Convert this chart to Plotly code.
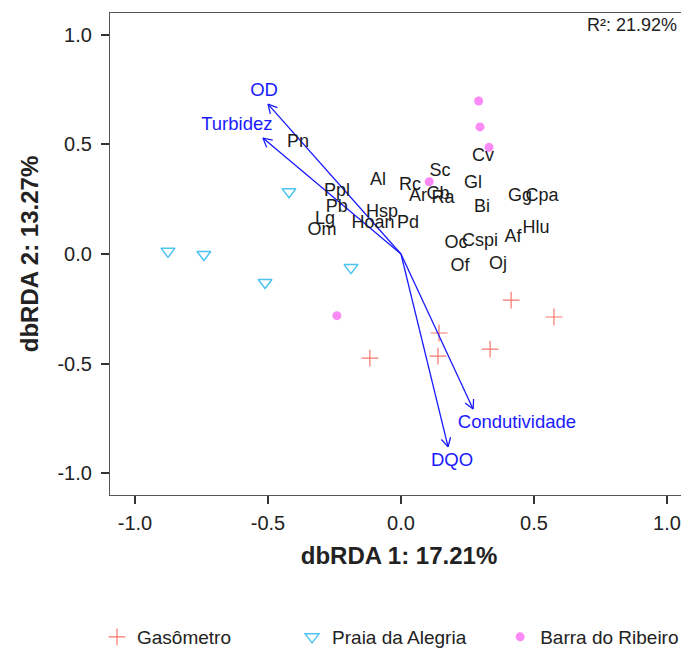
import math
import plotly.graph_objects as go

# ---------------- data ----------------
gas_x = [0.414, 0.575, 0.143, 0.139, 0.335, -0.117]
gas_y = [-0.210, -0.287, -0.360, -0.465, -0.433, -0.474]

praia_x = [-0.876, -0.741, -0.511, -0.188, -0.421]
praia_y = [0.012, -0.002, -0.130, -0.062, 0.284]

barra_x = [0.292, 0.297, 0.331, 0.106, -0.241]
barra_y = [0.697, 0.579, 0.486, 0.329, -0.281]

species = ["Pn", "Al", "Sc", "Cv", "Rc", "Ar", "Cb", "Ra", "Gl", "Bi", "Gg", "Cpa",
           "Hlu", "Af", "Oc", "Cspi", "Of", "Oj", "Ppl", "Pb", "Hsp", "Lg", "Om",
           "Hoan", "Pd"]
species_x = [-0.387, -0.086, 0.147, 0.308, 0.034, 0.064, 0.139, 0.158, 0.271, 0.305,
             0.447, 0.530, 0.508, 0.421, 0.207, 0.297, 0.222, 0.365, -0.241, -0.241,
             -0.071, -0.286, -0.297, -0.105, 0.026]
species_y = [0.506, 0.333, 0.374, 0.446, 0.314, 0.260, 0.269, 0.251, 0.323, 0.214,
             0.260, 0.260, 0.114, 0.073, 0.050, 0.059, -0.059, -0.050, 0.287, 0.214,
             0.191, 0.159, 0.109, 0.141, 0.141]

env_names = ["OD", "Turbidez", "Condutividade", "DQO"]
env_x = [-0.500, -0.519, 0.271, 0.177]
env_y = [0.683, 0.528, -0.706, -0.879]
env_label_x = [-0.515, -0.617, 0.436, 0.192]
env_label_y = [0.743, 0.588, -0.770, -0.943]

x_ticks = [-1.0, -0.5, 0.0, 0.5, 1.0]
y_ticks = [-1.0, -0.5, 0.0, 0.5, 1.0]
x_title = "dbRDA 1: 17.21%"
y_title = "dbRDA 2: 13.27%"
r2_text = "R²: 21.92%"

# ---------------- styles / layout ----------------
FONT = "Liberation Sans, Arial, sans-serif"
C_GAS = "#F8766D"
C_PRAIA = "#4CC4F2"
C_BARRA = "#FB8AF6"
C_ARROW = "#1A1AFF"
C_TEXT = "#1A1A1A"

X_RANGE = [-1.094, 1.079]
Y_RANGE = [-1.098, 1.098]
# page body has an 8px default margin; compensate so the plot lands where the reference has it
FIG_W, FIG_H = 681, 640
M_L, M_R, M_T, M_B = 102, 1, 5, 153
PLOT_W = FIG_W - M_L - M_R
PLOT_H = FIG_H - M_T - M_B
SX = PLOT_W / (X_RANGE[1] - X_RANGE[0])
SY = PLOT_H / (Y_RANGE[1] - Y_RANGE[0])

fig = go.Figure()

fig.add_trace(go.Scatter(
    x=gas_x, y=gas_y, mode="markers", name="Gasômetro",
    marker=dict(symbol="cross-thin", size=12, line=dict(color=C_GAS, width=1.2), color=C_GAS),
    legend="legend"))
fig.add_trace(go.Scatter(
    x=praia_x, y=praia_y, mode="markers", name="Praia da Alegria",
    marker=dict(symbol="triangle-down-open", size=12, line=dict(color=C_PRAIA, width=1.5), color=C_PRAIA),
    legend="legend2"))
fig.add_trace(go.Scatter(
    x=barra_x, y=barra_y, mode="markers", name="Barra do Ribeiro",
    marker=dict(symbol="circle", size=9, color=C_BARRA),
    legend="legend3"))

# arrows: shaft + open V head (head geometry computed in pixel space)
ax_list, ay_list = [], []
HEAD_LEN, HEAD_ANG = 10.0, math.radians(28)
for ex, ey in zip(env_x, env_y):
    ax_list += [0.0, ex, None]
    ay_list += [0.0, ey, None]
    px, py = ex * SX, ey * SY
    n = math.hypot(px, py)
    ux, uy = px / n, py / n
    for s in (1, -1):
        c, si = math.cos(s * HEAD_ANG), math.sin(s * HEAD_ANG)
        rx, ry = ux * c - uy * si, ux * si + uy * c
        hx, hy = px - HEAD_LEN * rx, py - HEAD_LEN * ry
        ax_list += [hx / SX, ex, None]
        ay_list += [hy / SY, ey, None]
fig.add_trace(go.Scatter(x=ax_list, y=ay_list, mode="lines", showlegend=False,
                         line=dict(color=C_ARROW, width=1.3), hoverinfo="skip"))

fig.add_trace(go.Scatter(
    x=species_x, y=species_y, mode="text", text=species, showlegend=False,
    textfont=dict(family=FONT, size=18, color=C_TEXT), hoverinfo="text"))

fig.add_trace(go.Scatter(
    x=env_label_x, y=env_label_y, mode="text", text=env_names, showlegend=False,
    textfont=dict(family=FONT, size=18.5, color=C_ARROW), hoverinfo="text"))

fig.add_annotation(x=1.0, y=1.0, xref="paper", yref="paper", xanchor="right", yanchor="top",
                   xshift=-9, yshift=0, text=r2_text, showarrow=False,
                   font=dict(family=FONT, size=18, color="#222222"))

axis_common = dict(showgrid=False, zeroline=False, showline=True, linecolor="#555555",
                   linewidth=1.2, mirror=True, ticks="outside", ticklen=8, tickwidth=1.5,
                   tickcolor="#333333", tickfont=dict(family=FONT, size=20, color="#222222"))

fig.update_xaxes(range=X_RANGE, tickvals=x_ticks, ticktext=[f"{v:.1f}" for v in x_ticks],
                 ticklabelstandoff=2,
                 title=dict(text=f"<b>{x_title}</b>", font=dict(family=FONT, size=24, color="#222222"),
                            standoff=14), **axis_common)
fig.update_yaxes(range=Y_RANGE, tickvals=y_ticks, ticktext=[f"{v:.1f}" for v in y_ticks],
                 ticklabelstandoff=5,
                 title=dict(text=f"<b>{y_title}</b>", font=dict(family=FONT, size=24, color="#222222"),
                            standoff=12), **axis_common)

leg_common = dict(orientation="h", yanchor="middle", y=-0.2946, xanchor="left",
                  font=dict(family=FONT, size=19, color="#222222"), bgcolor="rgba(0,0,0,0)")
fig.update_layout(
    width=FIG_W, height=FIG_H,
    margin=dict(l=M_L, r=M_R, t=M_T, b=M_B, autoexpand=False),
    plot_bgcolor="white", paper_bgcolor="white",
    legend=dict(x=-0.0225, **leg_common),
    legend2=dict(x=0.315, **leg_common),
    legend3=dict(x=0.675, **leg_common),
)

fig.write_html("out.html")
